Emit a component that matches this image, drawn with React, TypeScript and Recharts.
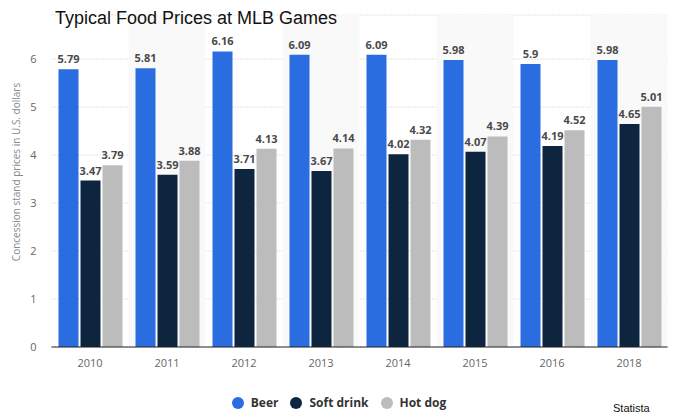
import React from "react";
import {
  Bar,
  BarChart,
  CartesianGrid,
  LabelList,
  ReferenceArea,
  XAxis,
  YAxis,
} from "recharts";

const YEARS = ["2010", "2011", "2012", "2013", "2014", "2015", "2016", "2018"];
const BEER = [5.79, 5.81, 6.16, 6.09, 6.09, 5.98, 5.9, 5.98];
const SOFT_DRINK = [3.47, 3.59, 3.71, 3.67, 4.02, 4.07, 4.19, 4.65];
const HOT_DOG = [3.79, 3.88, 4.13, 4.14, 4.32, 4.39, 4.52, 5.01];
const Y_TICKS = [0, 1, 2, 3, 4, 5, 6];

const SERIES = [
  { key: "beer", name: "Beer", color: "#2a6de0" },
  { key: "softDrink", name: "Soft drink", color: "#0d253f" },
  { key: "hotDog", name: "Hot dog", color: "#bcbcbc" },
];

const data = YEARS.map((year, i) => ({
  year,
  beer: BEER[i],
  softDrink: SOFT_DRINK[i],
  hotDog: HOT_DOG[i],
}));

const FONT = "'Open Sans', 'DejaVu Sans', sans-serif";

const labelStyle = {
  fontFamily: FONT,
  fontSize: 11,
  fontWeight: 700,
  fill: "#4a4a4a",
};

export default function App() {
  return (
    <div
      style={{
        position: "absolute",
        left: 0,
        top: 0,
        width: 678,
        height: 420,
        background: "#fff",
      }}
    >
      <BarChart
        width={678}
        height={420}
        data={data}
        margin={{ top: 15, right: 10.5, bottom: 43, left: 11.5 }}
        barSize={20}
        barGap={2}
      >
        {YEARS.filter((_, i) => i % 2 === 1).map((y) => (
          <ReferenceArea
            key={y}
            x1={y}
            x2={y}
            fill="#f9f9f9"
            fillOpacity={1}
            stroke="none"
            ifOverflow="extendDomain"
          />
        ))}
        <CartesianGrid
          vertical={false}
          stroke="#c8c8c8"
          strokeDasharray="1 2"
        />
        <XAxis
          dataKey="year"
          height={30}
          tickSize={0}
          tickMargin={12}
          axisLine={{ stroke: "#222" }}
          tick={{ fontFamily: FONT, fontSize: 11, fill: "#666" }}
        />
        <YAxis
          width={40}
          domain={[0, 6.92]}
          ticks={Y_TICKS}
          axisLine={false}
          tickSize={0}
          tickMargin={15}
          tick={{ fontFamily: FONT, fontSize: 11, fill: "#666" }}
          label={{
            content: () => (
              <text
                x={17}
                y={172}
                transform="rotate(-90 17 172)"
                textAnchor="middle"
                dominantBaseline="middle"
                style={{ fontFamily: FONT, fontSize: 10, fill: "#888" }}
              >
                Concession stand prices in U.S. dollars
              </text>
            ),
          }}
        />
        {SERIES.map((s) => (
          <Bar
            key={s.key}
            dataKey={s.key}
            name={s.name}
            fill={s.color}
            isAnimationActive={false}
          >
            <LabelList dataKey={s.key} position="top" offset={6} style={labelStyle} />
          </Bar>
        ))}
      </BarChart>

      <div
        style={{
          position: "absolute",
          left: 55,
          top: 8,
          fontFamily: "'Liberation Sans', Arial, sans-serif",
          fontSize: 18,
          color: "#111",
          whiteSpace: "nowrap",
        }}
      >
        Typical Food Prices at MLB Games
      </div>

      <div
        style={{
          position: "absolute",
          left: 0,
          width: 678,
          top: 394,
          display: "flex",
          justifyContent: "center",
          fontFamily: FONT,
          fontSize: 12,
          fontWeight: 700,
          color: "#333",
        }}
      >
        {SERIES.map((s) => (
          <div
            key={s.key}
            style={{ display: "flex", alignItems: "center", margin: "0 6px" }}
          >
            <span
              style={{
                width: 12,
                height: 12,
                borderRadius: 6,
                background: s.color,
                marginRight: 7,
                display: "inline-block",
              }}
            />
            {s.name}
          </div>
        ))}
      </div>

      <div
        style={{
          position: "absolute",
          left: 613,
          top: 402,
          fontFamily: "'Liberation Sans', Arial, sans-serif",
          fontSize: 11,
          color: "#111",
        }}
      >
        Statista
      </div>
    </div>
  );
}
